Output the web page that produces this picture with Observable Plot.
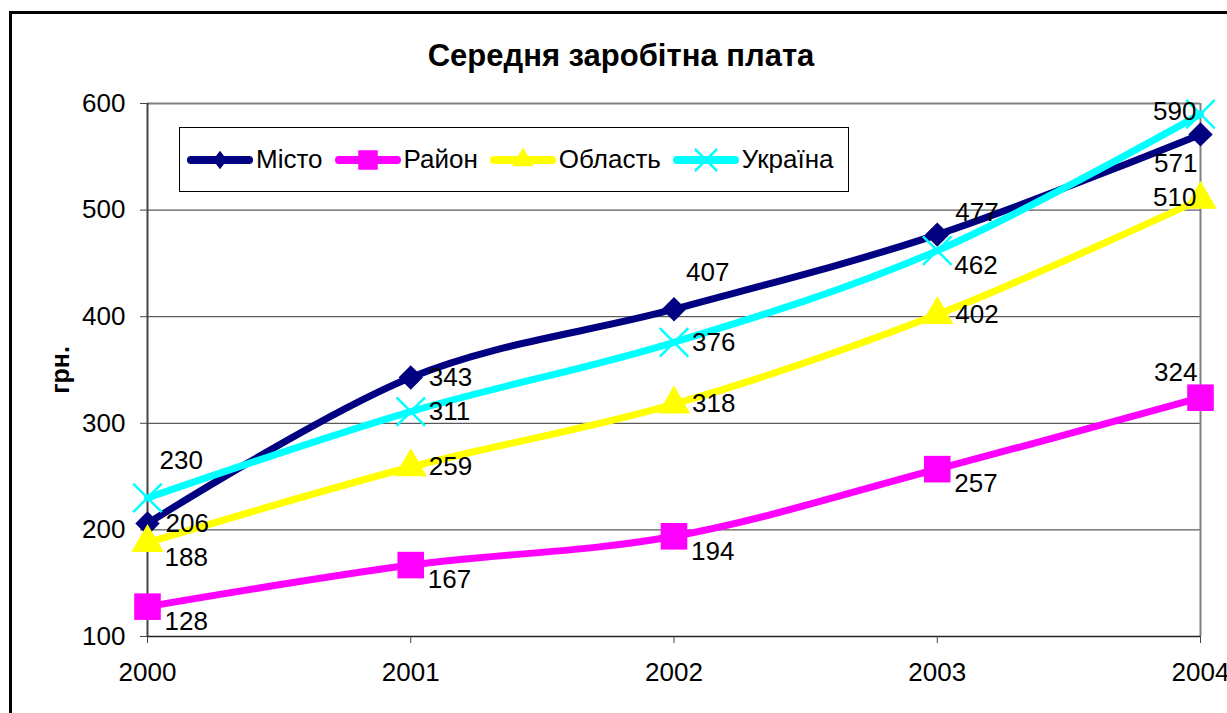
<!DOCTYPE html>
<html><head><meta charset="utf-8">
<script src="https://cdn.jsdelivr.net/npm/d3@7"></script>
<script src="https://cdn.jsdelivr.net/npm/@observablehq/plot@0.6"></script>
<style>
body{margin:0;background:#fff;font-family:"Liberation Sans",Arial,sans-serif;}
#wrap{position:relative;width:1227px;height:713px;overflow:hidden;}
#frame{position:absolute;left:9px;top:11px;width:1260px;height:740px;border:3px solid #000;box-sizing:border-box;pointer-events:none;}
#title{position:absolute;left:0;width:1242px;top:39px;text-align:center;font-weight:bold;font-size:31px;line-height:34px;}
#ylab{position:absolute;left:60px;top:370px;transform:translate(-50%,-50%) rotate(-90deg);font-weight:bold;font-size:25px;white-space:nowrap;}
#legend{position:absolute;left:179px;top:127px;width:670px;height:65px;border:1px solid #000;box-sizing:border-box;background:#fff;display:flex;align-items:center;padding-left:7px;}
.item{display:flex;align-items:center;margin-right:12px;font-size:26px;}
.item svg{display:block;margin-right:3px;}
#chart{position:absolute;left:0;top:0;}
</style></head>
<body><div id="wrap"><div id="chart"></div><div id="frame"></div><div id="title"></div><div id="ylab"></div><div id="legend"></div></div>
<script>
const titleText = "Середня заробітна плата";
const yLabelText = "грн.";
const years = [2000, 2001, 2002, 2003, 2004];
const seriesNames = ["Місто", "Район", "Область", "Україна"];
const misto = [206, 343, 407, 477, 571];
const raion = [128, 167, 194, 257, 324];
const oblast = [188, 259, 318, 402, 510];
const ukraina = [230, 311, 376, 462, 590];
const yTicks = [100, 200, 300, 400, 500, 600];
// where each data label sits relative to its point
const mistoLabelPlace = ["right", "right", "above", "aboveNear", "leftBelow"];
const raionLabelPlace = ["below", "below", "below", "below", "leftAbove"];
const oblastLabelPlace = ["below", "right", "right", "right", "left"];
const ukrainaLabelPlace = ["above", "right", "right", "below", "left"];

const seriesValues = [misto, raion, oblast, ukraina];
const seriesPlaces = [mistoLabelPlace, raionLabelPlace, oblastLabelPlace, ukrainaLabelPlace];
const styles = {
  "Місто":   {color: "#000080", symbol: "diamond2", r: 11, filled: true, legendSize: 200},
  "Район":   {color: "#FF00FF", symbol: "square", r: 15, filled: true, legendSize: 380},
  "Область": {color: "#FFFF00", symbol: "triangle", r: 12, filled: true, legendSize: 200},
  "Україна": {color: "#00FFFF", symbol: "times", r: 13, filled: false, legendSize: 330}
};
const placeStyle = {
  right:     {dx: 18, dy: 0, textAnchor: "start"},
  below:     {dx: 17, dy: 15, textAnchor: "start"},
  above:     {dx: 12, dy: -37, textAnchor: "start"},
  aboveNear: {dx: 18, dy: -22, textAnchor: "start"},
  left:      {dx: -4, dy: -2, textAnchor: "end"},
  leftBelow: {dx: -3, dy: 29, textAnchor: "end"},
  leftAbove: {dx: -3, dy: -25, textAnchor: "end"}
};

const rows = [];
seriesNames.forEach((s, i) => years.forEach((yr, j) => rows.push({series: s, year: yr, value: seriesValues[i][j], place: seriesPlaces[i][j]})));

const marks = [
  Plot.ruleY(yTicks.filter(v => v > 100 && v < 600), {stroke: "#333", strokeWidth: 1}),
  Plot.ruleY([600], {stroke: "#808080", strokeWidth: 2}),
  Plot.ruleX([2004], {stroke: "#808080", strokeWidth: 2}),
  Plot.ruleX([2000], {stroke: "#444", strokeWidth: 2}),
  Plot.ruleY([100], {stroke: "#222", strokeWidth: 1.5}),
  Plot.axisY({ticks: yTicks, tickSize: 7, tickPadding: 15, label: null, fontSize: 26, stroke: "#444"}),
  Plot.axisX({ticks: years, tickSize: 7, tickPadding: 19, label: null, fontSize: 26, tickFormat: d => String(d), stroke: "#444"})
];
for (const s of seriesNames) {
  const st = styles[s];
  const d = rows.filter(r => r.series === s);
  marks.push(Plot.line(d, {x: "year", y: "value", stroke: st.color, strokeWidth: 7, curve: "cardinal", tension: 0, strokeLinejoin: "round", strokeLinecap: "round"}));
  marks.push(Plot.dot(d, st.filled
    ? {x: "year", y: "value", symbol: () => st.symbol, r: st.r, fill: st.color, stroke: "none"}
    : {x: "year", y: "value", symbol: () => st.symbol, r: st.r, stroke: st.color, strokeWidth: 2.5, fill: "none"}));
}
for (const [p, ps] of Object.entries(placeStyle)) {
  marks.push(Plot.text(rows.filter(r => r.place === p), {x: "year", y: "value", text: d => String(d.value), fill: "#000", fontSize: 26, ...ps}));
}

const chart = Plot.plot({
  width: 1227, height: 713,
  marginLeft: 147, marginRight: 27, marginTop: 103, marginBottom: 77,
  x: {type: "linear", domain: [2000, 2004]},
  y: {domain: [100, 600]},
  symbol: {type: "identity"},
  style: {fontFamily: "'Liberation Sans', Arial, sans-serif", fontSize: "26px", color: "#000", background: "transparent"},
  marks
});
document.getElementById("chart").append(chart);
document.getElementById("title").textContent = titleText;
document.getElementById("ylab").textContent = yLabelText;

const legend = document.getElementById("legend");
const symMap = {diamond2: d3.symbolDiamond2, square: d3.symbolSquare, triangle: d3.symbolTriangle, times: d3.symbolTimes};
for (const s of seriesNames) {
  const st = styles[s];
  const item = document.createElement("div");
  item.className = "item";
  const svg = d3.create("svg").attr("width", 66).attr("height", 26);
  svg.append("line").attr("x1", 4).attr("x2", 62).attr("y1", 13).attr("y2", 13)
    .attr("stroke", st.color).attr("stroke-width", 8).attr("stroke-linecap", "round");
  const path = svg.append("path").attr("transform", s === "Місто" ? "translate(33,13) scale(0.8,1.05)" : "translate(33,13)")
    .attr("d", d3.symbol(symMap[st.symbol], st.legendSize)());
  if (st.filled) path.attr("fill", st.color); else path.attr("fill", "none").attr("stroke", st.color).attr("stroke-width", 2.5);
  item.append(svg.node());
  const t = document.createElement("span");
  t.textContent = s;
  item.append(t);
  legend.append(item);
}
</script></body></html>
